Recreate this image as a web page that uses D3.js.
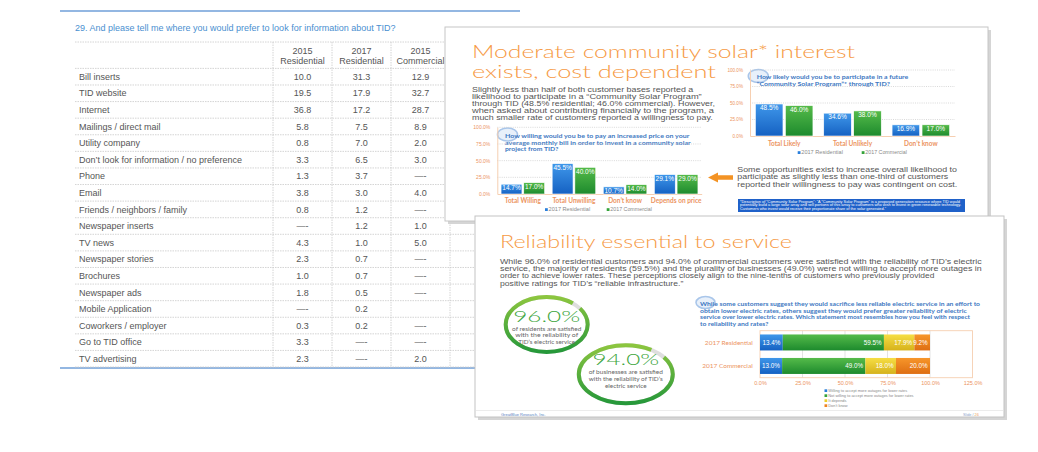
<!DOCTYPE html>
<html><head><meta charset="utf-8">
<script src="https://cdn.jsdelivr.net/npm/d3@7"></script>
<style>html,body{margin:0;padding:0;background:#fff;}svg{display:block;}</style>
</head><body>
<svg id="c" width="1038" height="452"></svg>
<script>
// ---------------- DATA ----------------
const tableTitle = "29. And please tell me where you would prefer to look for information about TID?";
const tableHeaders = [["2015","Residential"],["2017","Residential"],["2015","Commercial"]];
const sources = ["Bill inserts","TID website","Internet","Mailings / direct mail","Utility company",
  "Don\u2019t look for information / no preference","Phone","Email","Friends / neighbors / family",
  "Newspaper inserts","TV news","Newspaper stories","Brochures","Newspaper ads","Mobile Application",
  "Coworkers / employer","Go to TID office","TV advertising"];
const res2015 = [10.0,19.5,36.8,5.8,0.8,3.3,1.3,3.8,0.8,null,4.3,2.3,1.0,1.8,null,0.3,3.3,2.3];
const res2017 = [31.3,17.9,17.2,7.5,7.0,6.5,3.7,3.0,1.2,1.2,1.0,0.7,0.7,0.5,0.2,0.2,null,null];
const com2015 = [12.9,32.7,28.7,8.9,2.0,3.0,null,4.0,null,1.0,5.0,null,null,null,"",null,null,2.0];

const seriesNames = ["2017 Residential","2017 Commercial"];
const pctTicks = [0,25,50,75,100];
const likelyCats = ["Total Likely","Total Unlikely","Don\u2019t know"];
const likelyRes = [48.5,34.6,16.9];
const likelyCom = [46.0,38.0,17.0];
const payCats = ["Total Willing","Total Unwilling","Don\u2019t know","Depends on price"];
const payRes = [14.7,45.5,10.7,29.1];
const payCom = [17.0,40.0,14.0,29.0];
const reliabCats = ["2017 Residential","2017 Commercial"];
const reliabKeys = ["Willing to accept more outages for lower rates","Not willing to accept more outages for lower rates","It depends","Don\u2019t know"];
const reliabRes = [13.4,59.5,17.9,9.2];
const reliabCom = [13.0,49.0,18.0,20.0];
const reliabTicks = [0,25,50,75,100,125];
const satisfiedRes = 96.0;
const satisfiedCom = 94.0;

// ---------------- SETUP ----------------
const SANS = "'Liberation Sans', Arial, Helvetica, sans-serif";
const LATO = "Lato, 'Open Sans', sans-serif";
const THIN = "'DejaVu Sans ExtraLight', Lato, sans-serif";
const ORANGE_T = "#f69a45", LAB = "#ec9462", AXL = "#f6cfb1", GRAY = "#555";
const svg = d3.select("#c");
svg.append("rect").attr("width",1038).attr("height",452).attr("fill","#fff");
const defs = svg.append("defs");
function grad(id,c1,c2){const lg=defs.append("linearGradient").attr("id",id).attr("x1",0).attr("y1",0).attr("x2",0).attr("y2",1);
  lg.append("stop").attr("offset","0%").attr("stop-color",c1);lg.append("stop").attr("offset","100%").attr("stop-color",c2);}
grad("gBlue","#3f97ea","#1561c2"); grad("gGreen","#55bb4a","#1d8a2d");
grad("gYellow","#f6de44","#d6b21c"); grad("gOrange","#f7962a","#de6e12");
grad("gRing","#8cc63f","#26983a");
const fills = ["url(#gBlue)","url(#gGreen)","url(#gYellow)","url(#gOrange)"];
const solid = ["#2a7fdc","#35a33a","#eccf2a","#ef8420"];

function T(g,x,y,s,o={}){
  const t=g.append("text").attr("x",x).attr("y",y).text(s)
    .attr("font-family",o.ff||SANS).attr("font-size",o.fs||7).attr("fill",o.fill||GRAY);
  if(o.fw) t.attr("font-weight",o.fw);
  if(o.anchor) t.attr("text-anchor",o.anchor);
  if(o.w) t.attr("textLength",o.w).attr("lengthAdjust","spacingAndGlyphs");
  return t;
}

// ---------------- TABLE PAGE ----------------
const tg = svg.append("g");
tg.append("line").attr("x1",60).attr("x2",520).attr("y1",11).attr("y2",11).attr("stroke","#6f9fd8").attr("stroke-width",1.5);
tg.append("line").attr("x1",60).attr("x2",520).attr("y1",368).attr("y2",368).attr("stroke","#6f9fd8").attr("stroke-width",1.5);
T(tg,75,30.5,tableTitle,{fs:9,fill:"#4a8fd0"});
const rowY = d3.scaleBand().domain(sources).range([68.4,68.4+16.59*sources.length]);
const colX = d3.scaleBand().domain([0,1,2,3]).range([273,509]);
const dash = "1.5,1";
[42,68.4].concat(sources.map(s=>rowY(s)+rowY.bandwidth())).forEach(y=>{
  tg.append("line").attr("x1",75).attr("x2",520).attr("y1",y).attr("y2",y).attr("stroke","#c9c9c9").attr("stroke-dasharray",dash).attr("stroke-width",0.8);
});
[0,1,2,3].forEach(i=>{
  tg.append("line").attr("x1",colX(i)).attr("x2",colX(i)).attr("y1",42).attr("y2",367).attr("stroke","#c9c9c9").attr("stroke-dasharray",dash).attr("stroke-width",0.8);
});
tableHeaders.forEach((h,i)=>{
  const cx=colX(i)+colX.bandwidth()/2;
  T(tg,cx,54,h[0],{fs:9,anchor:"middle"}); T(tg,cx,64.3,h[1],{fs:9,anchor:"middle"});
});
const f1 = d3.format(".1f");
const cell = v => v===""?"":(v===null?"\u2014-":f1(v));
sources.forEach((s,r)=>{
  const by=rowY(s)+rowY.bandwidth()/2+3.2;
  T(tg,79,by,s,{fs:9});
  [res2015,res2017,com2015].forEach((arr,i)=>{
    T(tg,colX(i)+colX.bandwidth()/2,by,cell(arr[r]),{fs:9,anchor:"middle"});
  });
});

// ---------------- SLIDE 1 ----------------
const s1 = svg.append("g");
s1.append("rect").attr("x",448).attr("y",30).attr("width",543).attr("height",194).attr("fill","#d5d5d5");
s1.append("rect").attr("x",445).attr("y",27).attr("width",543).attr("height",194).attr("fill","#fff").attr("stroke","#c6c6c6");
T(s1,472,57.7,"Moderate community solar* interest",{ff:THIN,fw:300,fs:17.5,fill:ORANGE_T,w:383});
T(s1,472,77.7,"exists, cost dependent",{ff:THIN,fw:300,fs:17.5,fill:ORANGE_T,w:244});
const body1 = ["Slightly less than half of both customer bases reported a",
 "likelihood to participate in a \u201cCommunity Solar Program\u201d",
 "through TID (48.5% residential; 46.0% commercial). However,",
 "when asked about contributing financially to the program, a",
 "much smaller rate of customers reported a willingness to pay."];
const body1W = [221.3,229.7,243,242,240.7];
body1.forEach((l,i)=>T(s1,472,91.7+7.15*i,l,{fs:7,w:body1W[i]}));
const side1 = ["Some opportunities exist to increase overall likelihood to",
 "participate as slightly less than one-third of customers",
 "reported their willingness to pay was contingent on cost."];
const side1W = [219.7,211,220];
side1.forEach((l,i)=>T(s1,737.3,171.7+7.5*i,l,{fs:7,w:side1W[i]}));
// arrow
s1.append("path").attr("d","M708,177.5 L718,172.5 L718,175.3 L733,175.3 L733,179.7 L718,179.7 L718,182.5 Z").attr("fill","#f39324");
// footnote box
s1.append("rect").attr("x",738).attr("y",199).attr("width",227).attr("height",13).attr("fill","#1f61c9");
const foot = ["*Description of \u201cCommunity Solar Program\u201d: \u201cA \u201cCommunity Solar Program\u201d is a proposed generation resource where TID would",
 "potentially build a large solar array and sell portions of this array to customers who wish to invest in green renewable technology.",
 "Customers who invest would receive their proportionate share of the solar generated.\u201d"];
const footW=[220,221,146];
foot.forEach((l,i)=>T(s1,740,202.5+3.8*i,l,{fs:3.2,fill:"#fff",w:footW[i]}));

function qmark(g,cx,cy,rx,ry){
  g.append("ellipse").attr("cx",cx).attr("cy",cy).attr("rx",rx).attr("ry",ry)
   .attr("fill","rgba(190,212,240,0.35)").attr("stroke","#a9c6ea").attr("stroke-width",1.6);
}
function groupedBars(g,cats,resV,comV,box,opt){
  const x0=d3.scaleBand().domain(cats).range([box.x0,box.x1]).paddingInner(opt.pi).paddingOuter(opt.pi/2);
  const x1=d3.scaleBand().domain(seriesNames).range([0,x0.bandwidth()]).paddingInner(0.08);
  const y=d3.scaleLinear().domain([0,100]).range([box.y0,box.y1]);
  g.selectAll(null).data(pctTicks.slice(1)).join("line")
   .attr("x1",box.x0).attr("x2",box.x1).attr("y1",d=>y(d)).attr("y2",d=>y(d))
   .attr("stroke","#cfcfcf").attr("stroke-width",0.8).attr("stroke-dasharray","1,1.2");
  const ay=g.append("g").attr("transform",`translate(${box.x0},0)`)
   .call(d3.axisLeft(y).tickValues(pctTicks).tickSize(0).tickSizeOuter(0).tickPadding(opt.tp).tickFormat(d=>f1(d)+"%"));
  ay.select(".domain").attr("stroke",AXL);
  ay.selectAll("text").attr("font-family",SANS).attr("font-size",opt.tfs).attr("fill",LAB);
  const ax=g.append("g").attr("transform",`translate(0,${box.y0})`)
   .call(d3.axisBottom(x0).tickSize(0).tickSizeOuter(0).tickPadding(opt.cp));
  ax.select(".domain").attr("stroke",AXL);
  ax.selectAll("text").attr("font-family",LATO).attr("font-weight",700).attr("font-size",6.5).attr("fill",LAB);
  cats.forEach((c,i)=>{
    [resV[i],comV[i]].forEach((v,j)=>{
      const bx=x0(c)+x1(seriesNames[j]);
      g.append("rect").attr("x",bx).attr("y",y(v)).attr("width",x1.bandwidth()).attr("height",y(0)-y(v))
       .attr("fill",fills[j]).attr("stroke","#fff").attr("stroke-width",0.6);
      T(g,bx+x1.bandwidth()/2,y(v)+6.3,f1(v)+"%",{fs:6.5,fill:"#fff",anchor:"middle"});
    });
  });
  opt.leg.forEach((lx,j)=>{
    g.append("rect").attr("x",lx).attr("y",opt.ly-2.8).attr("width",2.8).attr("height",2.8).attr("fill",solid[j]);
    T(g,lx+3.6,opt.ly,seriesNames[j],{fs:5.5,fill:"#8a8a8a",w:41.6});
  });
}
// chart A
qmark(s1,758.3,76,10,6.5);
const qA=["How likely would you be to participate in a future","\u201cCommunity Solar Program\u201d* through TID?"];
[151.6,133.3].forEach((w,i)=>T(s1,756.7,79.3+6.7*i,qA[i],{ff:LATO,fw:700,fs:6,fill:"#3d78c2",w:w}));
groupedBars(s1,likelyCats,likelyRes,likelyCom,{x0:750,x1:955,y0:136,y1:70},{pi:0.158,tp:7,tfs:4.6,cp:4.9,leg:[797.7,861.7],ly:154});
// chart B
qmark(s1,507.5,134.5,10,6.5);
const qB=["How willing would you be to pay an increased price on your","average monthly bill in order to invest in a community solar","project from TID?"];
[184.3,185.7,53.3].forEach((w,i)=>T(s1,505,137.7+6.8*i,qB[i],{ff:LATO,fw:700,fs:6,fill:"#3d78c2",w:w}));
groupedBars(s1,payCats,payRes,payCom,{x0:497.3,x1:701.7,y0:194,y1:127.3},{pi:0.147,tp:7,tfs:5,cp:4.6,leg:[545,606.7],ly:211});

// ---------------- SLIDE 2 ----------------
const s2 = svg.append("g");
s2.append("rect").attr("x",478).attr("y",219).attr("width",529).attr("height",201).attr("fill","#d5d5d5");
s2.append("rect").attr("x",475).attr("y",216).attr("width",529).attr("height",201).attr("fill","#fff").attr("stroke","#c3c3c3");
s2.append("line").attr("x1",476).attr("x2",1003).attr("y1",410.5).attr("y2",410.5).attr("stroke","#ececec");
T(s2,500,248.3,"Reliability essential to service",{ff:THIN,fw:300,fs:18.5,fill:ORANGE_T,w:292});
const body2=["While 96.0% of residential customers and 94.0% of commercial customers were satisfied with the reliability of TID\u2019s electric",
 "service, the majority of residents (59.5%) and the plurality of businesses (49.0%) were not willing to accept more outages in",
 "order to achieve lower rates. These perceptions closely align to the nine-tenths of customers who previously provided",
 "positive ratings for TID\u2019s \u201creliable infrastructure.\u201d"];
const body2W=[481.7,481.7,434.3,183.3];
body2.forEach((l,i)=>T(s2,500,263.7+7.35*i,l,{fs:7,w:body2W[i]}));
// rings
function ring(g,cx,cy,rx,ry,v,gapStart,big,bigW,lines,linesW,ly){
  g.append("ellipse").attr("cx",cx).attr("cy",cy).attr("rx",rx).attr("ry",ry).attr("fill","none")
   .attr("stroke","#dedede").attr("stroke-width",4);
  g.append("ellipse").attr("cx",cx).attr("cy",cy).attr("rx",rx).attr("ry",ry).attr("fill","none")
   .attr("pathLength",100).attr("stroke","url(#gRing)").attr("stroke-width",4)
   .attr("stroke-dasharray",`${v} ${100-v}`).attr("stroke-dashoffset",v-gapStart);
  T(g,cx,big,f1(v)+"%",{ff:THIN,fw:300,fs:16,fill:"#3ea640",anchor:"middle",w:bigW});
  lines.forEach((l,i)=>T(g,cx,ly+6.8*i,l,{ff:LATO,fs:5.8,fill:"#666",anchor:"middle",w:linesW[i]}));
}
ring(s2,546.7,324.5,41,27.5,satisfiedRes,87.5,321.7,67,
  ["of residents are satisfied","with the reliability of","TID\u2019s electric service"],[69.4,63,56.7],330.5);
ring(s2,625.8,374.2,47,29,satisfiedCom,85.8,365,66.7,
  ["of businesses are satisfied","with the reliability of TID\u2019s","electric service"],[74.3,74,41.7],374);
// chart C
qmark(s2,705.5,302.5,9.5,6);
const qC=["While some customers suggest they would sacrifice less reliable electric service in an effort to",
 "obtain lower electric rates, others suggest they would prefer greater reliability of electric",
 "service over lower electric rates.  Which statement most resembles how you feel with respect",
 "to reliability and rates?"];
[280,266.7,270,68.3].forEach((w,i)=>T(s2,700,306+6.7*i,qC[i],{ff:LATO,fw:700,fs:6,fill:"#3d78c2",w:w}));
const xC=d3.scaleLinear().domain([0,125]).range([760,972.5]);
const yC=d3.scaleBand().domain(reliabCats).range([330.7,377.7]).paddingInner(0.32).paddingOuter(0.16);
s2.selectAll(null).data(reliabTicks.slice(1,5)).join("line")
  .attr("x1",d=>xC(d)).attr("x2",d=>xC(d)).attr("y1",330.7).attr("y2",377.7).attr("stroke","#dcdcdc").attr("stroke-width",0.8);
s2.append("rect").attr("x",760).attr("y",330.7).attr("width",212.5).attr("height",47).attr("fill","none").attr("stroke",AXL).attr("stroke-width",0.9);
const rowsC=reliabCats.map((c,i)=>{const o={cat:c};reliabKeys.forEach((k,j)=>o[k]=[reliabRes,reliabCom][i][j]);return o;});
const stacked=d3.stack().keys(reliabKeys)(rowsC);
stacked.forEach((layer,j)=>{
  layer.forEach(d=>{
    const c=d.data.cat;
    s2.append("rect").attr("x",xC(d[0])).attr("y",yC(c)).attr("width",xC(d[1])-xC(d[0])).attr("height",yC.bandwidth()).attr("fill",fills[j]);
    T(s2,xC(d[1])-2.3,yC(c)+yC.bandwidth()/2+2.3,f1(d[1]-d[0])+"%",{fs:6.3,fill:"#fff",anchor:"end"});
  });
});
const axC=s2.append("g").attr("transform","translate(0,377.7)")
  .call(d3.axisBottom(xC).tickValues(reliabTicks).tickSize(0).tickSizeOuter(0).tickPadding(3.4).tickFormat(d=>f1(d)+"%"));
axC.select(".domain").remove();
axC.selectAll("text").attr("font-family",SANS).attr("font-size",5.5).attr("fill",LAB);
const ayC=s2.append("g").attr("transform","translate(760,0)")
  .call(d3.axisLeft(yC).tickSize(0).tickSizeOuter(0).tickPadding(7.3));
ayC.select(".domain").remove();
ayC.selectAll("text").attr("font-family",LATO).attr("font-size",6.5).attr("fill",LAB);
reliabKeys.forEach((k,j)=>{
  const ly=392+5*j;
  s2.append("rect").attr("x",824.5).attr("y",ly-2.7).attr("width",2.7).attr("height",2.7).attr("fill",solid[j]);
  T(s2,828.3,ly,k,{fs:3.9,fill:"#888"});
});
T(s2,501,415.5,"GreatBlue Research, Inc.",{fs:3.8,fill:"#5a82c2",w:44.7});
const sl=T(s2,963,415.5,"Slide / ",{fs:3.8,fill:"#8aa4cc"});
sl.append("tspan").attr("fill","#f0a050").text("26");
</script>
</body></html>
